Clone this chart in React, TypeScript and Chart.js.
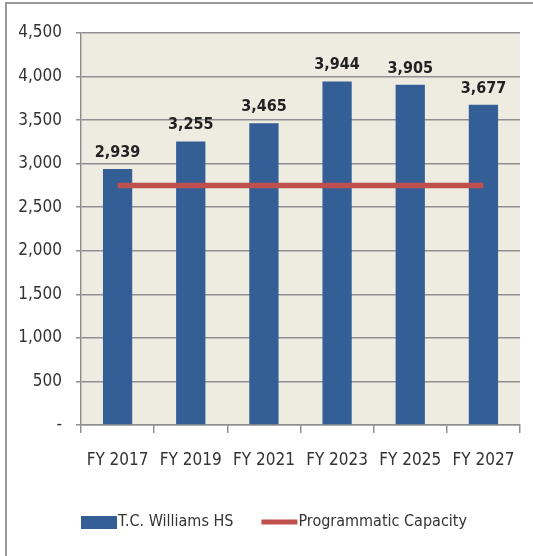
import React, { useEffect, useRef } from "react";
import { Chart, registerables } from "chart.js";

Chart.register(...registerables);

const categories = ["FY 2017", "FY 2019", "FY 2021", "FY 2023", "FY 2025", "FY 2027"];
const enrollment = [2939, 3255, 3465, 3944, 3905, 3677];
const capacity = [2750, 2750, 2750, 2750, 2750, 2750];
const seriesNames = ["T.C. Williams HS", "Programmatic Capacity"];
const yMax = 4500;
const yStep = 500;

const FONT = "'DejaVu Sans Condensed', 'Liberation Sans Narrow', sans-serif";
const BLUE = "#335E96";
const RED = "#C0504D";
const TEXT = "#333333";

const fmt = (v: number) => (v === 0 ? "-" : v.toLocaleString("en-US"));

const decorPlugin = {
  id: "decor",
  beforeDraw(chart: any) {
    const { ctx, chartArea } = chart;
    ctx.save();
    ctx.fillStyle = "#ffffff";
    ctx.fillRect(0, 0, chart.width, chart.height);
    ctx.fillStyle = "#EEECE1";
    ctx.fillRect(chartArea.left, chartArea.top, chartArea.right - chartArea.left, chartArea.bottom - chartArea.top);
    // outer frame (top and left)
    ctx.strokeStyle = "#9a9a9a";
    ctx.lineWidth = 2;
    ctx.beginPath();
    ctx.moveTo(chart.width, 3);
    ctx.lineTo(6, 3);
    ctx.lineTo(6, chart.height);
    ctx.stroke();
    ctx.restore();
  },
  afterDraw(chart: any) {
    const { ctx } = chart;
    ctx.save();
    // data labels
    const meta = chart.getDatasetMeta(0);
    ctx.font = `bold 16px ${FONT}`;
    ctx.fillStyle = "#222222";
    ctx.textAlign = "center";
    ctx.textBaseline = "alphabetic";
    meta.data.forEach((el: any, i: number) => {
      ctx.fillText(fmt(chart.data.datasets[0].data[i]), el.x, el.y - 12);
    });
    // legend
    const ly = 522;
    let x = chart.chartArea.left;
    ctx.font = `16px ${FONT}`;
    ctx.textAlign = "left";
    ctx.textBaseline = "middle";
    ctx.fillStyle = BLUE;
    ctx.fillRect(x, ly - 6, 36, 13);
    x += 37;
    ctx.fillStyle = TEXT;
    ctx.fillText(chart.data.datasets[0].label, x, ly);
    x += ctx.measureText(chart.data.datasets[0].label).width + 28;
    ctx.strokeStyle = RED;
    ctx.lineWidth = 5;
    ctx.beginPath();
    ctx.moveTo(x, ly);
    ctx.lineTo(x + 36, ly);
    ctx.stroke();
    x += 37;
    ctx.fillText(chart.data.datasets[1].label, x, ly);
    ctx.restore();
  },
};

export default function App() {
  const ref = useRef<HTMLCanvasElement>(null);
  useEffect(() => {
    if (!ref.current) return;
    const chart = new Chart(ref.current, {
      type: "bar",
      data: {
        labels: categories,
        datasets: [
          {
            type: "bar",
            label: seriesNames[0],
            data: enrollment,
            backgroundColor: BLUE,
            categoryPercentage: 1,
            barPercentage: 0.4,
            order: 2,
          },
          {
            type: "line",
            label: seriesNames[1],
            data: capacity,
            borderColor: RED,
            borderWidth: 5.5,
            pointRadius: 0,
            fill: false,
            order: 1,
          } as any,
        ],
      },
      options: {
        animation: false,
        responsive: false,
        maintainAspectRatio: false,
        layout: { padding: { left: 6, right: 13, top: 33, bottom: 0 } },
        plugins: { legend: { display: false }, tooltip: { enabled: false } },
        scales: {
          x: {
            offset: true,
            grid: { offset: true, drawOnChartArea: false, drawTicks: true, tickLength: 8, color: "#8f8f8f", lineWidth: 1.5 },
            border: { display: true, color: "#8f8f8f", width: 1.5 },
            ticks: {
              color: TEXT,
              font: { family: FONT, size: 17 },
              padding: 17,
              maxRotation: 0,
              minRotation: 0,
              autoSkip: false,
            },
            afterFit: (s: any) => { s.height = 131; },
          },
          y: {
            min: 0,
            max: yMax,
            grid: { color: "#8f8f8f", lineWidth: 1.5, tickLength: 5 },
            border: { display: true, color: "#8f8f8f", width: 1.5 },
            ticks: {
              stepSize: yStep,
              color: TEXT,
              font: { family: FONT, size: 17 },
              padding: 14,
              callback: (v: any) => fmt(Number(v)),
            },
            afterFit: (s: any) => { s.width = 75; },
          },
        },
      },
      plugins: [decorPlugin],
    });
    return () => chart.destroy();
  }, []);
  return (
    <div style={{ position: "absolute", left: 0, top: 0, width: 533, height: 556 }}>
      <canvas ref={ref} width={533} height={556} style={{ width: 533, height: 556, display: "block" }} />
    </div>
  );
}
